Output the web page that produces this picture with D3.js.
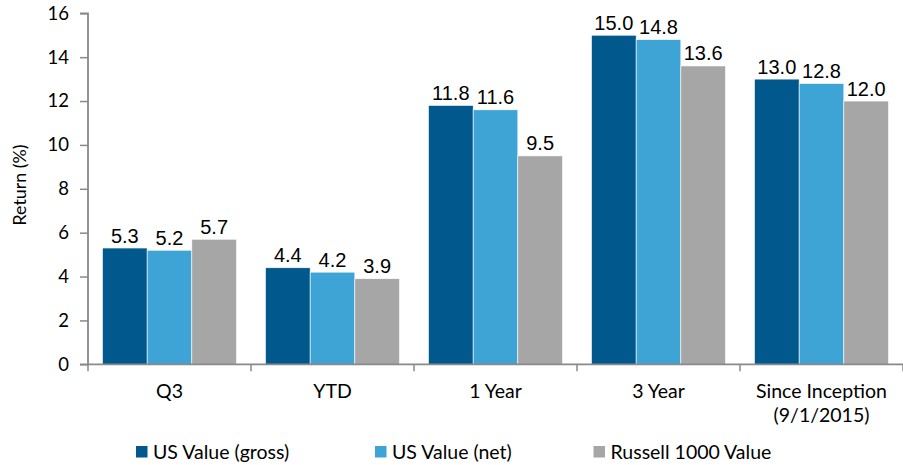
<!DOCTYPE html>
<html><head><meta charset="utf-8">
<script src="https://cdn.jsdelivr.net/npm/d3@7"></script>
<style>
html,body{margin:0;padding:0;background:#fff;}
svg{display:block;}
</style>
</head><body>
<svg id="chart" width="903" height="465"></svg>
<script>
const categories = ["Q3", "YTD", "1 Year", "3 Year", "Since Inception\n(9/1/2015)"];
const seriesNames = ["US Value (gross)", "US Value (net)", "Russell 1000 Value"];
const gross = [5.3, 4.4, 11.8, 15.0, 13.0];
const net = [5.2, 4.2, 11.6, 14.8, 12.8];
const russell = [5.7, 3.9, 9.5, 13.6, 12.0];
const yTicks = [0, 2, 4, 6, 8, 10, 12, 14, 16];
const colors = ["#00588C", "#3EA3D5", "#A6A6A6"];

(function () {
const seriesValues = [gross, net, russell];
const svg = d3.select("#chart");
const mLeft = 88, mRight = 903, mTop = 13.3, mBottom = 364.3;

const x = d3.scaleBand().domain(categories).range([mLeft, mRight]).paddingInner(0).paddingOuter(0);
const xs = d3.scaleBand().domain(seriesNames).range([14.5, x.bandwidth() - 14.5]).padding(0);
const y = d3.scaleLinear().domain([0, 16]).range([mBottom, mTop]);

const tickFont = "Lato, 'Open Sans', sans-serif";
const axisColor = "#898989";

// bars
const groups = svg.append("g").selectAll("g").data(categories).join("g")
  .attr("transform", d => `translate(${x(d)},0)`);
seriesNames.forEach((s, si) => {
  groups.append("rect")
    .attr("x", (d) => xs(s))
    .attr("width", xs.bandwidth())
    .attr("y", (d, i) => y(seriesValues[si][i]))
    .attr("height", (d, i) => y(0) - y(seriesValues[si][i]))
    .attr("fill", colors[si])
    .attr("stroke", "#fff").attr("stroke-width", 0.6);
  groups.append("text")
    .attr("x", d => xs(s) + xs.bandwidth() / 2)
    .attr("y", (d, i) => y(seriesValues[si][i]) - 5.5)
    .attr("text-anchor", "middle")
    .attr("font-family", "'Liberation Sans', Arial, sans-serif")
    .attr("font-size", 20)
    .attr("fill", "#000")
    .text((d, i) => seriesValues[si][i].toFixed(1));
});

// y axis
const yAxis = d3.axisLeft(y).tickValues(yTicks).tickSize(8).tickPadding(11).tickFormat(d3.format("d"));
const yg = svg.append("g").attr("transform", `translate(${mLeft},0)`).call(yAxis);
yg.select(".domain").attr("stroke", axisColor).attr("stroke-width", 1.8).attr("d", `M-8,${mTop}H0V${mBottom}H-8`);
yg.selectAll(".tick line").attr("stroke", axisColor).attr("stroke-width", 1.5);
yg.selectAll(".tick text").attr("font-family", tickFont).attr("font-size", 18.5).attr("fill", "#000");

// x axis
const xAxis = d3.axisBottom(x).tickSize(0).tickFormat("");
const xg = svg.append("g").attr("transform", `translate(0,${mBottom})`).call(xAxis);
xg.select(".domain").attr("stroke", axisColor).attr("stroke-width", 1.8).attr("d", `M${mLeft},0H${mRight}`);
const seps = categories.map(c => x(c)).concat([mRight]);
xg.selectAll(".sep").data(seps).join("line").attr("class", "sep")
  .attr("x1", d => d).attr("x2", d => d).attr("y1", 0).attr("y2", 7)
  .attr("stroke", axisColor).attr("stroke-width", 1.5);

// category labels
categories.forEach(c => {
  const lines = c.split("\n");
  const t = svg.append("text")
    .attr("x", x(c) + x.bandwidth() / 2)
    .attr("y", 397.5)
    .attr("text-anchor", "middle")
    .attr("font-family", tickFont).attr("font-size", 19.5).attr("fill", "#000");
  lines.forEach((ln, i) => t.append("tspan").attr("x", x(c) + x.bandwidth() / 2).attr("dy", i === 0 ? 0 : 24).text(ln));
});

// y title
svg.append("text")
  .attr("transform", `translate(26,185) rotate(-90)`)
  .attr("text-anchor", "middle")
  .attr("font-family", tickFont).attr("font-size", 17.8).attr("fill", "#000")
  .text("Return (%)");

// legend
const legendX = [136, 375, 593.5];
const lg = svg.append("g").selectAll("g").data(seriesNames).join("g")
  .attr("transform", (d, i) => `translate(${legendX[i]},446)`);
lg.append("rect").attr("width", 11.5).attr("height", 11.5).attr("fill", (d, i) => colors[i]);
lg.append("text").attr("x", 17).attr("y", 12.5)
  .attr("font-family", tickFont).attr("font-size", 19.5).attr("fill", "#000")
  .text(d => d);
})();
</script>
</body></html>
